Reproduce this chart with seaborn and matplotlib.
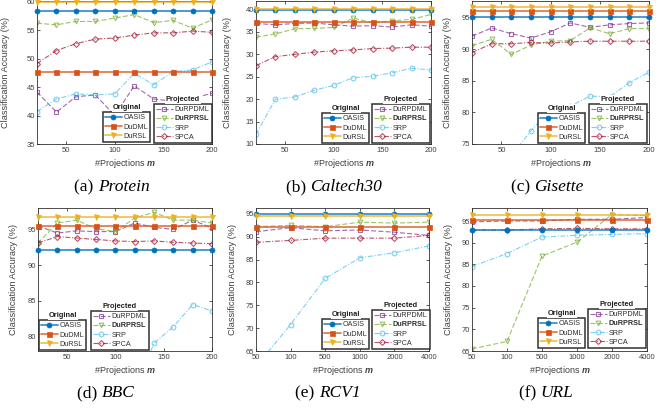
import numpy as np
import pandas as pd
import matplotlib
matplotlib.use("Agg")
import matplotlib.pyplot as plt
import matplotlib.colors as mcolors
import seaborn as sns

# ---------------- data ----------------
m_small = [20, 40, 60, 80, 100, 120, 140, 160, 180, 200]
m_large_labels = ["50", "100", "500", "1000", "2000", "4000"]

# Protein
protein_oasis = 58.3
protein_dudml = 47.7
protein_dursl = 59.9
protein_durpdml = [44.1, 40.6, 43.3, 43.6, 40.0, 45.2, 42.9, 42.5, 43.0, 43.9]
protein_durprsl = [56.2, 55.9, 56.5, 56.5, 57.1, 57.7, 56.3, 56.7, 55.3, 56.8]
protein_srp = [40.7, 42.9, 43.8, 43.6, 43.8, 47.4, 45.4, 47.7, 48.0, 49.4]
protein_spca = [49.1, 51.4, 52.6, 53.4, 53.6, 54.1, 54.5, 54.5, 54.8, 54.6]

# Caltech30
caltech_oasis = 39.85
caltech_dudml = 37.2
caltech_dursl = 40.1
caltech_durpdml = [36.9, 36.6, 36.9, 37.0, 36.6, 36.3, 36.4, 36.1, 36.6, 36.3]
caltech_durprsl = [33.8, 34.6, 35.7, 35.8, 36.0, 38.1, 37.0, 37.5, 37.8, 38.9]
caltech_srp = [12.2, 20.0, 20.5, 22.0, 23.1, 24.8, 25.1, 25.9, 26.9, 26.5]
caltech_spca = [27.5, 29.5, 30.0, 30.5, 30.8, 31.0, 31.3, 31.4, 31.6, 31.6]

# Gisette
gisette_oasis = 95.2
gisette_dudml = 96.1
gisette_dursl = 96.8
gisette_durpdml = [92.1, 93.4, 92.5, 91.8, 92.8, 94.2, 93.5, 93.9, 94.1, 94.2]
gisette_durprsl = [90.6, 91.6, 89.2, 90.7, 91.3, 91.4, 93.4, 92.5, 93.3, 93.3]
gisette_srp = [67.0, 70.0, 73.2, 77.1, 80.6, 81.0, 82.6, 82.5, 84.7, 86.4]
gisette_spca = [89.5, 90.9, 90.9, 91.1, 91.0, 91.2, 91.3, 91.3, 91.3, 91.3]

# BBC
bbc_oasis = 92.1
bbc_dudml = 95.45
bbc_dursl = 96.8
bbc_durpdml = [95.5, 94.5, 94.8, 94.7, 94.7, 95.9, 95.3, 95.0, 96.3, 95.2]
bbc_durprsl = [93.1, 95.9, 96.3, 95.1, 94.7, 96.6, 97.4, 96.3, 96.3, 95.9]
bbc_srp = [60.0, 63.0, 66.0, 68.0, 70.0, 72.2, 79.1, 81.4, 84.5, 83.6]
bbc_spca = [93.1, 94.0, 93.8, 93.6, 93.4, 93.3, 93.4, 93.2, 93.1, 93.0]

# RCV1
rcv1_oasis = 94.9
rcv1_dudml = 92.2
rcv1_dursl = 94.6
rcv1_durpdml = [91.1, 92.0, 91.3, 91.5, 91.0, 90.3]
rcv1_durprsl = [92.2, 92.5, 92.2, 93.2, 93.0, 93.2]
rcv1_srp = [61.6, 70.8, 80.9, 85.4, 86.5, 88.0]
rcv1_spca = [88.8, 89.2, 89.7, 89.7, 89.7, 90.3]

# URL
url_oasis = 92.9
url_dudml = 95.2
url_dursl = 96.4
url_durpdml = [94.8, 95.0, 95.0, 95.4, 95.4, 95.8]
url_durprsl = [65.5, 67.2, 86.9, 90.1, 96.5, 96.2]
url_srp = [84.5, 87.5, 91.3, 91.7, 91.9, 92.1]
url_spca = [92.9, 92.9, 93.2, 93.3, 93.2, 93.2]

# ---------------- style ----------------
sns.set_theme(style="ticks")
plt.rcParams["font.family"] = ["Liberation Sans", "DejaVu Sans"]
plt.rcParams.update({
    "xtick.direction": "in", "ytick.direction": "in",
    "xtick.top": True, "ytick.right": True,
    "xtick.major.size": 2.2, "ytick.major.size": 2.2,
    "xtick.major.width": 0.6, "ytick.major.width": 0.6,
    "xtick.major.pad": 2.0, "ytick.major.pad": 1.5,
    "xtick.labelsize": 5.5, "ytick.labelsize": 5.5,
    "xtick.color": "#404040", "ytick.color": "#404040",
    "axes.edgecolor": "#303030", "axes.linewidth": 0.6,
    "mathtext.fontset": "custom",
    "mathtext.rm": "Liberation Sans",
    "mathtext.it": "Liberation Sans:italic",
    "mathtext.bf": "Liberation Sans:bold",
})
try:
    plt.rcParams["mathtext.bfit"] = "Liberation Sans:bold:italic"
except KeyError:
    pass

W, H = 670, 411
fig = plt.figure(figsize=(W / 100, H / 100), dpi=100)

C_OASIS = "#0072BD"
C_DUDML = "#D95319"
C_DURSL = "#EDB120"
C_DURPDML = "#7E2F8E"
C_DURPRSL = "#77AC30"
C_SRP = "#4DBEEE"
C_SPCA = "#A2142F"

orig_specs = [("OASIS", C_OASIS, "o"), ("DuDML", C_DUDML, "s"), ("DuRSL", C_DURSL, "v")]
proj_specs = [("DuRPDML", C_DURPDML, "s", (0, (4.5, 2))),
              ("DuRPRSL", C_DURPRSL, "v", (0, (4.5, 2))),
              ("SRP", C_SRP, "o", (0, (4.5, 1.5, 1, 1.5))),
              ("SPCA", C_SPCA, "D", (0, (4.5, 1.5, 1, 1.5)))]


def px_axes(l, t, r, b):
    return fig.add_axes([l / W, 1 - b / H, (r - l) / W, (b - t) / H])


panels = [
    dict(rect=(37, 1.5, 212, 144), x=m_small, labels=None,
         orig=[protein_oasis, protein_dudml, protein_dursl],
         proj=[protein_durpdml, protein_durprsl, protein_srp, protein_spca],
         ylim=(35, 60), yticks=[35, 40, 45, 50, 55, 60],
         leg_o=(103, 142), leg_p=(154, 143), ylx=10, cap=("(a) ", "Protein"), capx=112, capy=187),
    dict(rect=(256, 1.5, 431, 144), x=m_small, labels=None,
         orig=[caltech_oasis, caltech_dudml, caltech_dursl],
         proj=[caltech_durpdml, caltech_durprsl, caltech_srp, caltech_spca],
         ylim=(10, 41.8), yticks=[10, 15, 20, 25, 30, 35, 40],
         leg_o=(322, 143), leg_p=(372, 143), ylx=232, cap=("(b) ", "Caltech30"), capx=334, capy=187),
    dict(rect=(472, 1.5, 649, 144), x=m_small, labels=None,
         orig=[gisette_oasis, gisette_dudml, gisette_dursl],
         proj=[gisette_durpdml, gisette_durprsl, gisette_srp, gisette_spca],
         ylim=(75, 97.6), yticks=[75, 80, 85, 90, 95],
         leg_o=(538, 143), leg_p=(589, 143), ylx=452, cap=("(c) ", "Gisette"), capx=547, capy=187),
    dict(rect=(38, 208, 212, 351), x=m_small, labels=None,
         orig=[bbc_oasis, bbc_dudml, bbc_dursl],
         proj=[bbc_durpdml, bbc_durprsl, bbc_srp, bbc_spca],
         ylim=(78, 98), yticks=[80, 85, 90, 95],
         leg_o=(39, 350), leg_p=(91, 350), ylx=18, cap=("(d) ", "BBC"), capx=106, capy=393),
    dict(rect=(256, 208, 429, 351), x=list(range(6)), labels=m_large_labels,
         orig=[rcv1_oasis, rcv1_dudml, rcv1_dursl],
         proj=[rcv1_durpdml, rcv1_durprsl, rcv1_srp, rcv1_spca],
         ylim=(65, 96.3), yticks=[65, 70, 75, 80, 85, 90, 95],
         leg_o=(322, 349), leg_p=(372, 349), ylx=237, cap=("(e) ", "RCV1"), capx=328, capy=393),
    dict(rect=(472, 208, 647, 351), x=list(range(6)), labels=m_large_labels,
         orig=[url_oasis, url_dudml, url_dursl],
         proj=[url_durpdml, url_durprsl, url_srp, url_spca],
         ylim=(65, 98), yticks=[65, 70, 75, 80, 85, 90, 95],
         leg_o=(538, 348), leg_p=(588, 348), ylx=453, cap=("(f) ", "URL"), capx=546, capy=393),
]

legends = []
for p in panels:
    ax = px_axes(*p["rect"])
    x = p["x"]
    n = len(x)
    orig_lines, proj_lines = [], []
    for (name, col, mk), val in zip(orig_specs, p["orig"]):
        yv = np.full(n, val)
        sns.lineplot(x=x, y=yv, ax=ax, legend=False, errorbar=None, sort=False)
        ln = ax.lines[-1]
        ln.set_color(mcolors.to_rgba(col, 0.7))
        ln.set_linewidth(1.4)
        ln.set_linestyle("-")
        ln.set_marker(mk)
        ln.set_markersize(3.6)
        ln.set_markerfacecolor(col)
        ln.set_markeredgecolor(col)
        ln.set_markeredgewidth(0.5)
        ln.set_label(name)
        ln.set_clip_on(False)
        ln.set_zorder(3)
        orig_lines.append(ln)
    for (name, col, mk, ls), vals in zip(proj_specs, p["proj"]):
        sns.lineplot(x=x, y=vals, ax=ax, legend=False, errorbar=None, sort=False)
        ln = ax.lines[-1]
        rgba = mcolors.to_rgba(col, 0.72)
        ln.set_color(rgba)
        ln.set_linewidth(0.8)
        ln.set_linestyle(ls)
        ln.set_marker(mk)
        ln.set_markersize(3.4 if mk != "D" else 3.0)
        ln.set_markerfacecolor("none")
        ln.set_markeredgecolor(rgba)
        ln.set_markeredgewidth(0.8)
        ln.set_label(name)
        ln.set_zorder(2)
        proj_lines.append(ln)

    ax.set_ylim(*p["ylim"])
    ax.set_yticks(p["yticks"])
    if p["labels"] is None:
        ax.set_xlim(20, 200)
        ax.set_xticks([50, 100, 150, 200])
    else:
        ax.set_xlim(0, 5)
        ax.set_xticks(range(6))
        ax.set_xticklabels(p["labels"])
    for s in ax.spines.values():
        s.set_visible(True)
    ax.set_ylabel("Classification Accuracy (%)", fontsize=6.6, color="#404040")
    l, t, r, b = p["rect"]
    ax.yaxis.set_label_coords((p["ylx"] - l) / (r - l), 0.5)
    ax.set_xlabel(r"#Projections $\boldsymbol{m}$", fontsize=6.5, color="#404040", labelpad=2.5)

    # legends
    lo = ax.legend(handles=orig_lines, loc="lower left",
                   bbox_to_anchor=(p["leg_o"][0] / W, 1 - p["leg_o"][1] / H),
                   bbox_transform=fig.transFigure, borderaxespad=0,
                   fontsize=5.2, handlelength=2.3, handletextpad=0.25,
                   labelspacing=0.3, borderpad=0.3, frameon=True,
                   fancybox=False, framealpha=1, edgecolor="#303030")
    lo.get_frame().set_linewidth(1.1)
    lo.set_zorder(10)
    ax.add_artist(lo)
    lp = ax.legend(handles=proj_lines, loc="lower left",
                   bbox_to_anchor=(p["leg_p"][0] / W, 1 - p["leg_p"][1] / H),
                   bbox_transform=fig.transFigure, borderaxespad=0,
                   fontsize=5.2, handlelength=2.3, handletextpad=0.25,
                   labelspacing=0.3, borderpad=0.3, frameon=True,
                   fancybox=False, framealpha=1, edgecolor="#303030")
    lp.get_frame().set_linewidth(1.1)
    lp.set_zorder(10)
    lp.get_texts()[1].set_fontweight("bold")
    for lg in (lo, lp):
        for t in lg.get_texts():
            t.set_color("#303030")
    legends.append((lo, "Original"))
    legends.append((lp, "Projected"))

fig.canvas.draw()
renderer = fig.canvas.get_renderer()

# captions: regular "(x) " + italic dataset name, centred as a whole
for p in panels:
    t1 = fig.text(0, 1 - p["capy"] / H, p["cap"][0], ha="left", va="center",
                  fontsize=12.5, family="Liberation Serif", color="black")
    t2 = fig.text(0, 1 - p["capy"] / H, p["cap"][1], ha="left", va="center",
                  fontsize=12.5, family="Liberation Serif", style="italic", color="black")
    w1 = t1.get_window_extent(renderer).width
    w2 = t2.get_window_extent(renderer).width
    x0 = p["capx"] - (w1 + w2) / 2
    t1.set_x(x0 / W)
    t2.set_x((x0 + w1) / W)

for lg, title in legends:
    bb = lg.get_window_extent(renderer)
    cx = (bb.x0 + bb.x1) / 2
    fig.text(cx / W, (bb.y1 + 1) / H, title, ha="center", va="bottom",
             fontsize=5.4, fontweight="bold", color="#202020", zorder=20,
             bbox=dict(facecolor="white", edgecolor="none", pad=0.6))

fig.savefig("out.png", dpi=100)
